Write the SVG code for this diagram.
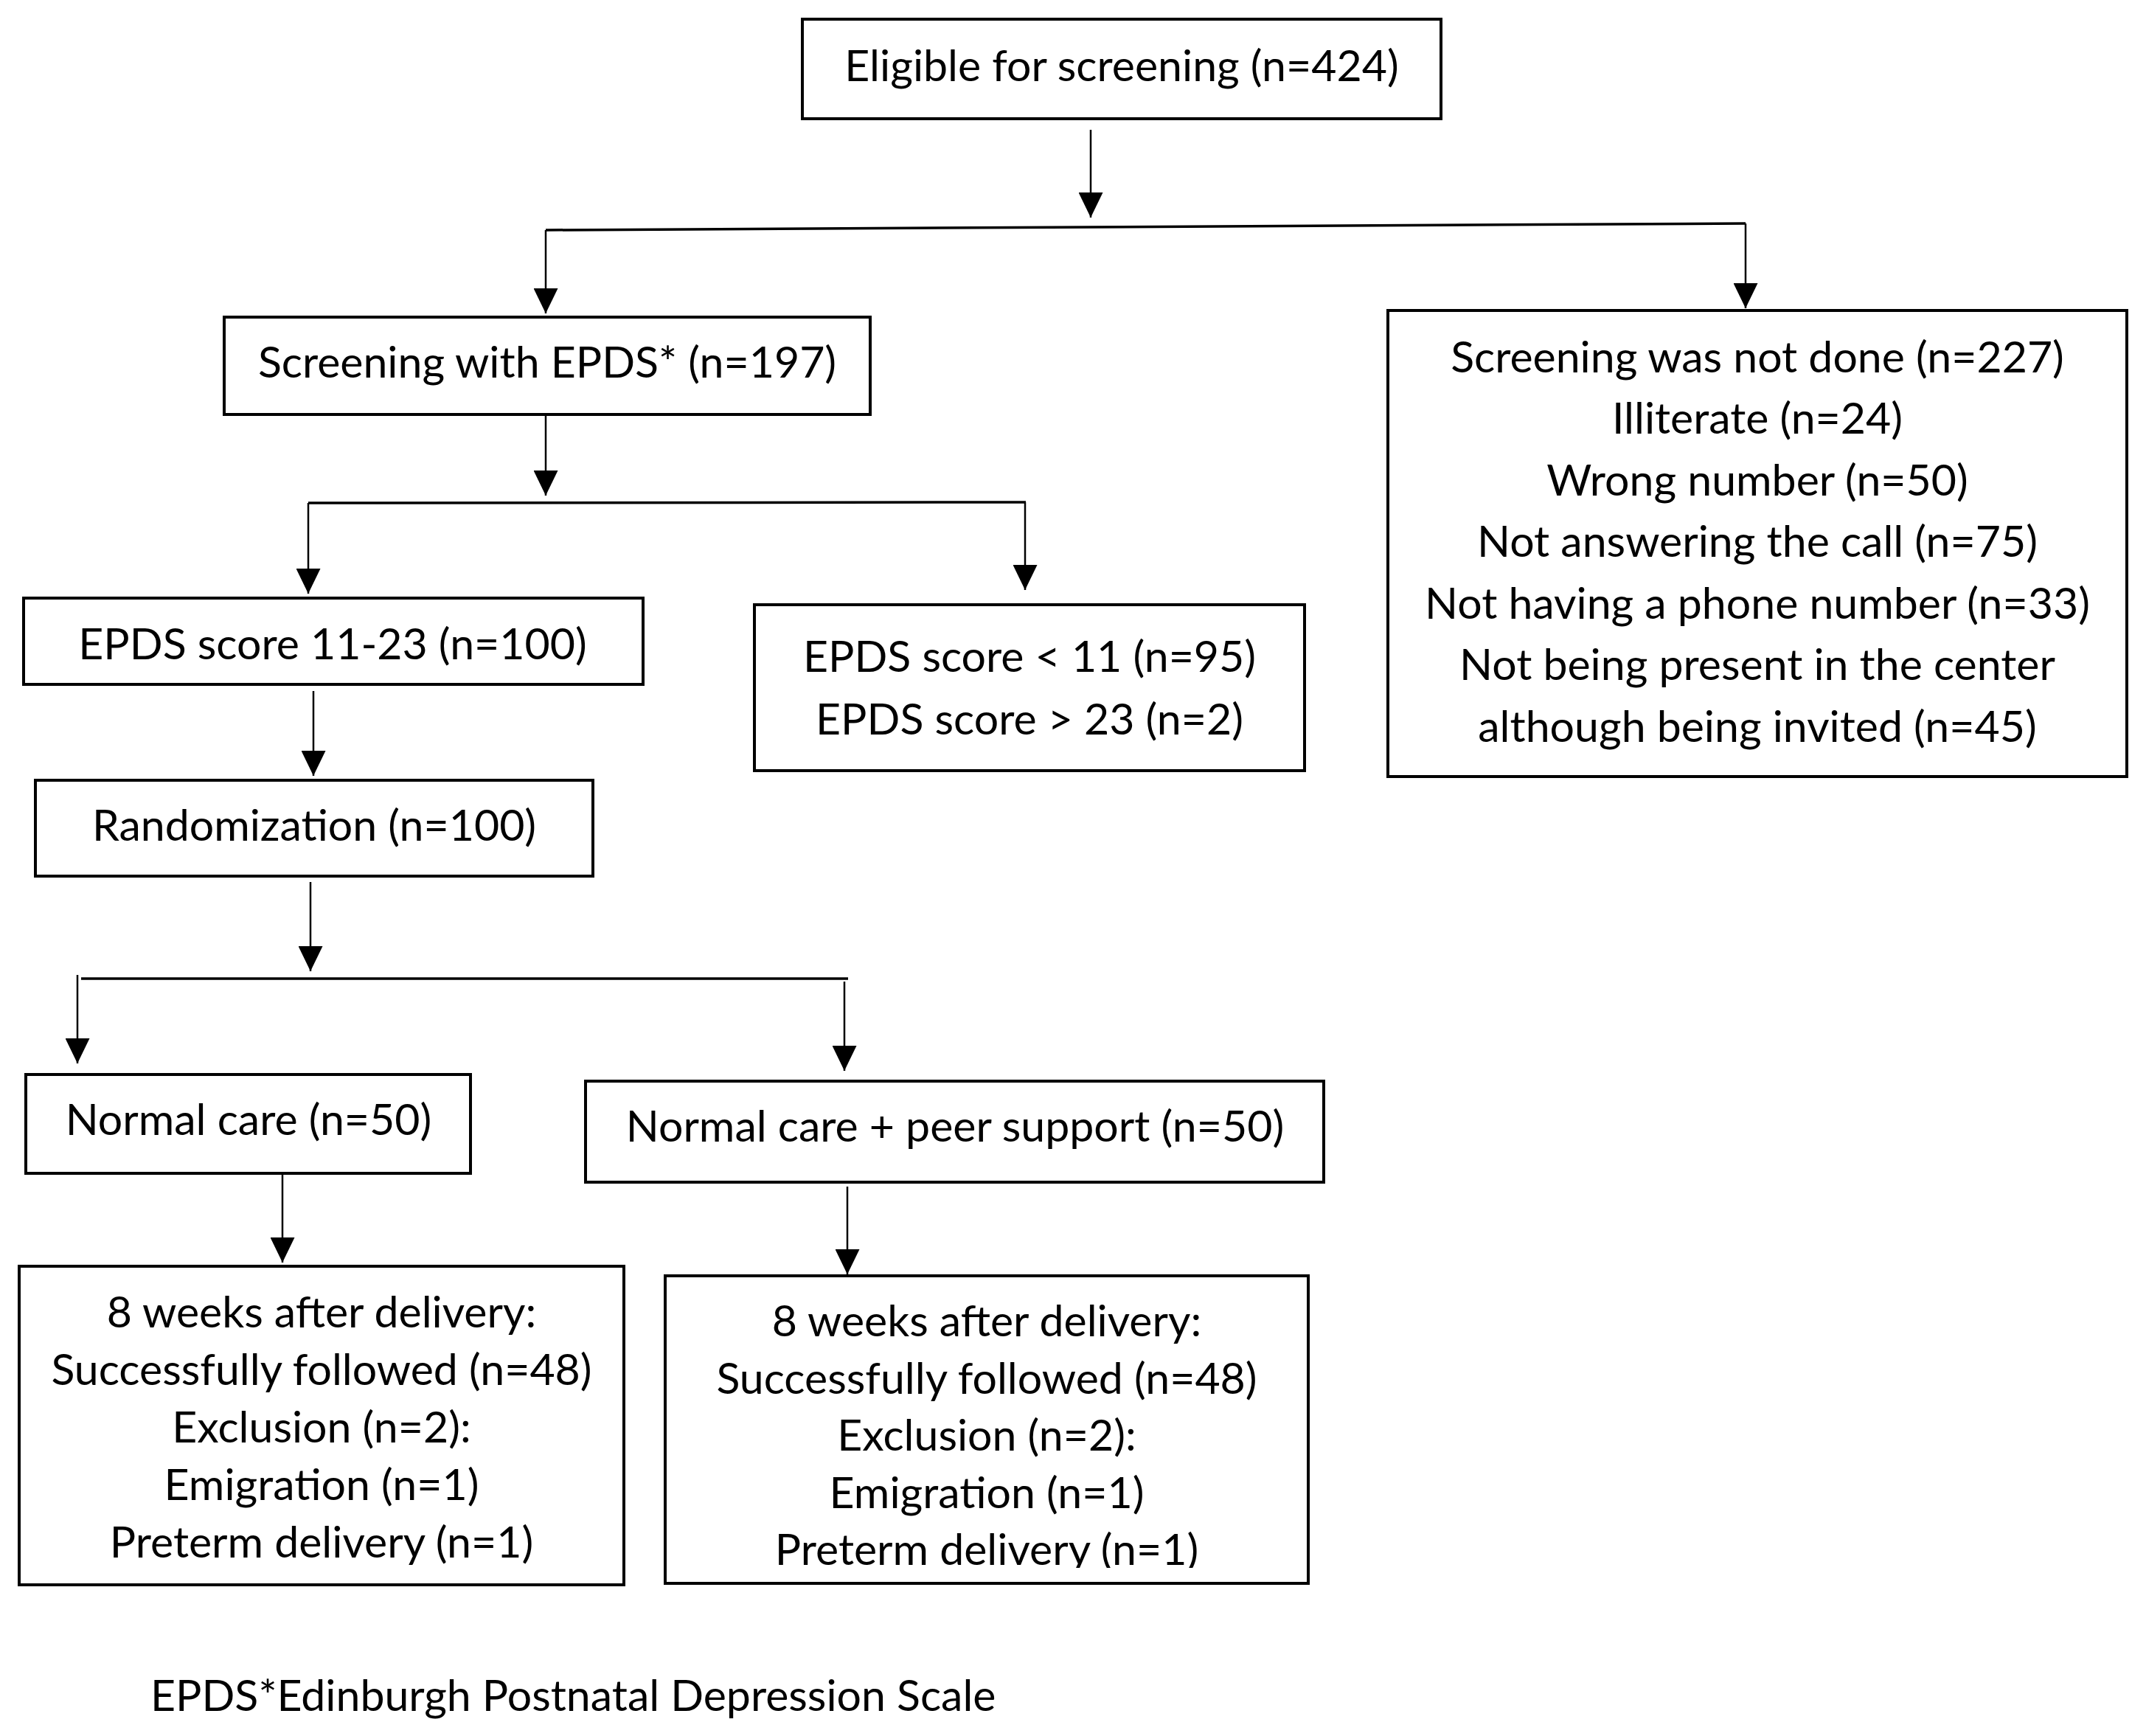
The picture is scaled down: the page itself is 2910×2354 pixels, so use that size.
<svg xmlns="http://www.w3.org/2000/svg" width="2910" height="2354" viewBox="0 0 2910 2354">
<style>
.box{fill:#fff;stroke:#000;stroke-width:4}
.t{font-family:Lato,"Open Sans","Liberation Sans",sans-serif;font-size:59px;fill:#000;text-anchor:middle}
.ft{font-family:Lato,"Open Sans","Liberation Sans",sans-serif;font-size:59px;fill:#000}
.c{stroke:#000;stroke-width:2.5;fill:none}
.h{stroke:#000;stroke-width:3.5;fill:none}
</style>
<defs>
<marker id="ah" markerUnits="userSpaceOnUse" markerWidth="34" markerHeight="33" refX="34" refY="16.5" orient="auto" viewBox="0 0 34 33">
<path d="M0,0 L34,16.5 L0,33 z" fill="#000"/>
</marker>
<clipPath id="clipR"><rect x="902" y="1730" width="872" height="396"/></clipPath>
</defs>
<rect width="2910" height="2354" fill="#fff"/>
<g id="connectors">
<line class="c" x1="1479" y1="176" x2="1479" y2="295" marker-end="url(#ah)"/>
<line class="h" x1="740" y1="312" x2="2367" y2="303"/>
<line class="c" x1="740" y1="312" x2="740" y2="425" marker-end="url(#ah)"/>
<line class="c" x1="2367" y1="303" x2="2367" y2="418" marker-end="url(#ah)"/>
<line class="c" x1="740" y1="552" x2="740" y2="672" marker-end="url(#ah)"/>
<line class="h" x1="418" y1="682" x2="1391" y2="681"/>
<line class="c" x1="418" y1="682" x2="418" y2="805" marker-end="url(#ah)"/>
<line class="c" x1="1390" y1="681" x2="1390" y2="800" marker-end="url(#ah)"/>
<line class="c" x1="425" y1="937" x2="425" y2="1052" marker-end="url(#ah)"/>
<line class="c" x1="421" y1="1196" x2="421" y2="1317" marker-end="url(#ah)"/>
<line class="h" x1="110" y1="1327" x2="1150" y2="1327"/>
<line class="c" x1="105" y1="1322" x2="105" y2="1442" marker-end="url(#ah)"/>
<line class="c" x1="1145" y1="1331" x2="1145" y2="1452" marker-end="url(#ah)"/>
<line class="c" x1="383" y1="1593" x2="383" y2="1712" marker-end="url(#ah)"/>
<line class="c" x1="1149" y1="1609" x2="1149" y2="1728" marker-end="url(#ah)"/>
</g>
<g id="n-eligible">
<rect class="box" x="1088" y="26" width="866" height="135"/>
<text class="t" x="1521" y="110">Eligible for screening (n=424)</text>
</g>
<g id="n-screening">
<rect class="box" x="304" y="430" width="876" height="132"/>
<text class="t" x="742" y="512">Screening with EPDS* (n=197)</text>
</g>
<g id="n-notdone">
<rect class="box" x="1882" y="421" width="1002" height="632"/>
<text class="t" x="2383" y="505">Screening was not done (n=227)</text>
<text class="t" x="2383" y="588">Illiterate (n=24)</text>
<text class="t" x="2383" y="672">Wrong number (n=50)</text>
<text class="t" x="2383" y="755">Not answering the call (n=75)</text>
<text class="t" x="2383" y="839">Not having a phone number (n=33)</text>
<text class="t" x="2383" y="922">Not being present in the center</text>
<text class="t" x="2383" y="1006">although being invited (n=45)</text>
</g>
<g id="n-epds1123">
<rect class="box" x="32" y="811" width="840" height="117"/>
<text class="t" x="451" y="894">EPDS score 11-23 (n=100)</text>
</g>
<g id="n-epdsother">
<rect class="box" x="1023" y="820" width="746" height="225"/>
<text class="t" x="1396" y="911">EPDS score  &lt; 11 (n=95)</text>
<text class="t" x="1396" y="996">EPDS score  &gt; 23 (n=2)</text>
</g>
<g id="n-random">
<rect class="box" x="48" y="1058" width="756" height="130"/>
<text class="t" x="426" y="1140">Randomization (n=100)</text>
</g>
<g id="n-normal">
<rect class="box" x="35" y="1457" width="603" height="134"/>
<text class="t" x="337" y="1539">Normal care (n=50)</text>
</g>
<g id="n-peer">
<rect class="box" x="794" y="1466" width="1001" height="137"/>
<text class="t" x="1295" y="1548">Normal care + peer support (n=50)</text>
</g>
<g id="n-follow-left">
<rect class="box" x="26" y="1717" width="820" height="432"/>
<text class="t" x="436" y="1800">8 weeks after delivery:</text>
<text class="t" x="436" y="1878">Successfully followed (n=48)</text>
<text class="t" x="436" y="1956">Exclusion (n=2):</text>
<text class="t" x="436" y="2034">Emigration (n=1)</text>
<text class="t" x="436" y="2112">Preterm delivery (n=1)</text>
</g>
<g id="n-follow-right">
<rect class="box" x="902" y="1730" width="872" height="417"/>
<g clip-path="url(#clipR)">
<text class="t" x="1338" y="1812">8 weeks after delivery:</text>
<text class="t" x="1338" y="1890">Successfully followed (n=48)</text>
<text class="t" x="1338" y="1967">Exclusion (n=2):</text>
<text class="t" x="1338" y="2045">Emigration (n=1)</text>
<text class="t" x="1338" y="2122">Preterm delivery (n=1)</text>
</g>
</g>
<g id="footnote">
<text class="ft" x="204" y="2320">EPDS*Edinburgh Postnatal Depression Scale</text>
</g>
</svg>
